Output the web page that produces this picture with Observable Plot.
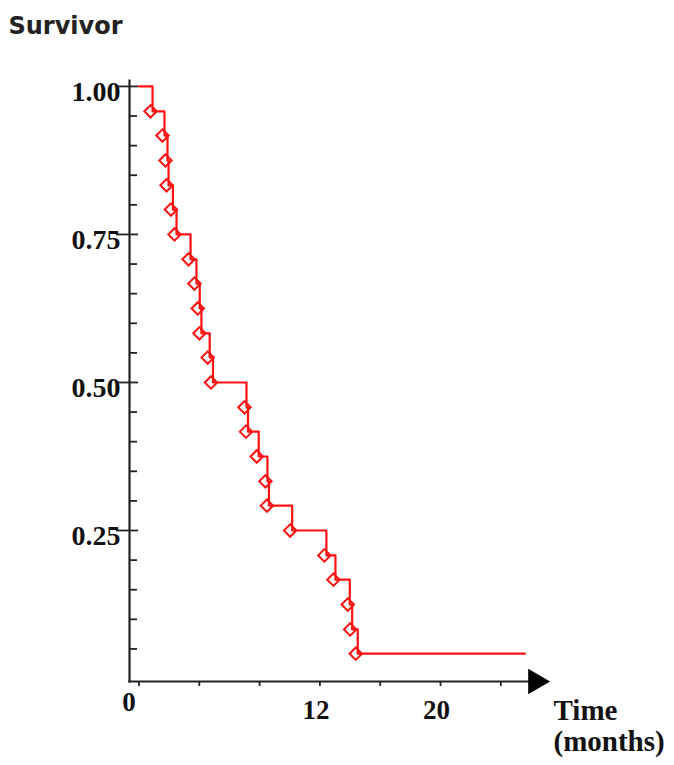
<!DOCTYPE html>
<html><head><meta charset="utf-8">
<script src="https://cdn.jsdelivr.net/npm/d3@7"></script>
<script src="https://cdn.jsdelivr.net/npm/@observablehq/plot@0.6"></script>
<style>body{margin:0;background:#fff} #chart svg{display:block}</style>
</head><body><div id="chart"></div>
<script>
// Kaplan–Meier style survivor curve (24 patients)
const eventTimes = [0.90,1.69,1.89,1.96,2.25,2.49,3.42,3.81,4.03,4.14,4.69,4.91,7.13,7.23,7.94,8.52,8.62,10.16,12.43,13.03,13.98,14.14,14.51];
const survival   = [0.958,0.917,0.875,0.833,0.792,0.750,0.708,0.667,0.625,0.583,0.542,0.500,0.458,0.417,0.375,0.333,0.292,0.250,0.208,0.167,0.125,0.083,0.042];
const startTime = 0;
const startSurvival = 1.0;
const endTime = 25.6;
const xTicks = [0,4,8,12,16,20,24];
const xTickLabels = [12,20];
const originLabel = [0];
const yMajorTicks = [0.25,0.50,0.75,1.00];
const yMinorTicks = [0.05,0.10,0.15,0.20,0.30,0.35,0.40,0.45,0.55,0.60,0.65,0.70,0.80,0.85,0.90,0.95];
const yTitle = "Survivor";
const xTitle = ["Time","(months)"];
const xDomain = [-0.63, 26.3];
const yDomain = [-0.005, 1.01];

const events = eventTimes.map((t,i) => ({t, s: survival[i]}));
const curve = [{t: startTime, s: startSurvival}, ...events, {t: endTime, s: survival[survival.length-1]}];

const serif = "'Liberation Serif','Times New Roman',serif";
const red = "#ff1010";

const chart = Plot.plot({
  width: 674, height: 765,
  marginLeft: 129, marginRight: 139, marginTop: 80, marginBottom: 84,
  style: {background: "#fff", overflow: "visible"},
  x: {domain: xDomain, axis: null},
  y: {domain: yDomain, axis: null},
  marks: [
    Plot.frame({anchor: "left", stroke: "#222", strokeWidth: 2.2}),
    Plot.frame({anchor: "bottom", stroke: "#222", strokeWidth: 2.2}),
    Plot.axisY(yMinorTicks, {anchor: "left", tickSize: 8, dx: 8, tickFormat: () => "", label: null, stroke: "#222", strokeWidth: 1.8}),
    Plot.axisY(yMajorTicks, {anchor: "left", tickSize: 22, dx: 9, tickFormat: () => "", label: null, stroke: "#222", strokeWidth: 1.8}),
    Plot.axisX(xTicks, {anchor: "bottom", tickSize: 5, tickFormat: () => "", label: null, stroke: "#222", strokeWidth: 1.8}),
    Plot.text(yMajorTicks, {y: d => d, text: d => d3.format(".2f")(d), frameAnchor: "left", textAnchor: "end", dx: -9, dy: 6,
      fontFamily: serif, fontWeight: "bold", fontSize: 28, fill: "#111"}),
    Plot.text(xTickLabels, {x: d => d, text: d => String(d), frameAnchor: "bottom", dy: 37, dx: -4,
      fontFamily: serif, fontWeight: "bold", fontSize: 27, fill: "#111"}),
    Plot.text(originLabel, {x: d => d, text: d => String(d), frameAnchor: "bottom", dy: 29, dx: -10,
      fontFamily: serif, fontWeight: "bold", fontSize: 27, fill: "#111"}),
    Plot.line(curve, {x: "t", y: "s", curve: "step-after", stroke: red, strokeWidth: 2.2}),
    Plot.dot(events, {x: "t", y: "s", symbol: "diamond2", r: 5.6, stroke: red, strokeWidth: 2, fill: "none", dx: -2}),
    Plot.dot([xDomain[1]], {x: d => d, frameAnchor: "bottom", symbol: "triangle", rotate: 90, r: 9.4, fill: "#000", stroke: "none"}),
    Plot.text([yTitle], {text: d => d, frameAnchor: "top-left", textAnchor: "start", dx: -121, dy: -64,
      fontFamily: "'DejaVu Sans',sans-serif", fontWeight: "bold", fontSize: 24, fill: "#222"}),
    Plot.text([xTitle[0]], {text: d => d, frameAnchor: "bottom-right", textAnchor: "start", dx: 18, dy: 38,
      fontFamily: serif, fontWeight: "bold", fontSize: 29, fill: "#111"}),
    Plot.text([xTitle[1]], {text: d => d, frameAnchor: "bottom-right", textAnchor: "start", dx: 18, dy: 69,
      fontFamily: serif, fontWeight: "bold", fontSize: 29, fill: "#111"})
  ]
});
document.getElementById("chart").appendChild(chart);
</script>
</body></html>
